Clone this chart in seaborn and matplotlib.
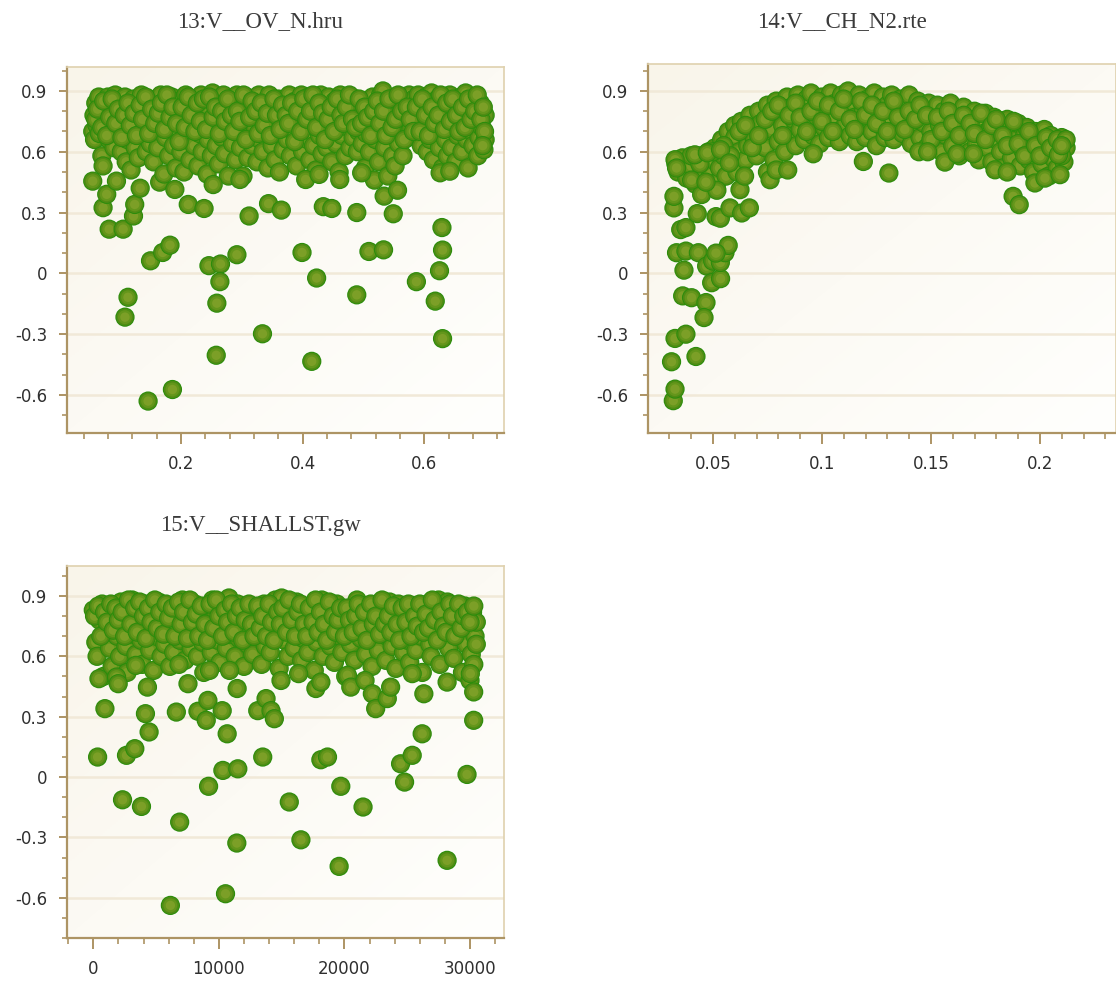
import numpy as np
import pandas as pd
import matplotlib
matplotlib.use("Agg")
import matplotlib.pyplot as plt
import seaborn as sns
from matplotlib.ticker import MultipleLocator, FuncFormatter
from matplotlib.colors import LinearSegmentedColormap

# ---------------- data ----------------
titles = ["13:V__OV_N.hru", "14:V__CH_N2.rte", "15:V__SHALLST.gw"]

ov_n_band = [
    (0.055, 0.70), (0.057, 0.78), (0.060, 0.84), (0.062, 0.73), (0.058, 0.66), (0.065, 0.87), (0.068, 0.80),
    (0.066, 0.69), (0.070, 0.58), (0.072, 0.53), (0.075, 0.75), (0.080, 0.87), (0.082, 0.66), (0.085, 0.82),
    (0.088, 0.71), (0.090, 0.62), (0.092, 0.88), (0.095, 0.77), (0.098, 0.69), (0.100, 0.84), (0.102, 0.60),
    (0.105, 0.73), (0.108, 0.87), (0.110, 0.55), (0.112, 0.66), (0.115, 0.79), (0.118, 0.51), (0.120, 0.70),
    (0.122, 0.86), (0.125, 0.62), (0.128, 0.75), (0.130, 0.57), (0.135, 0.88), (0.138, 0.68), (0.140, 0.80),
    (0.143, 0.60), (0.145, 0.72), (0.148, 0.86), (0.150, 0.64), (0.153, 0.77), (0.155, 0.55), (0.158, 0.83),
    (0.160, 0.70), (0.162, 0.62), (0.165, 0.45), (0.167, 0.88), (0.170, 0.76), (0.172, 0.49), (0.175, 0.67),
    (0.178, 0.83), (0.180, 0.58), (0.183, 0.72), (0.185, 0.87), (0.188, 0.63), (0.190, 0.79), (0.192, 0.52),
    (0.195, 0.69), (0.198, 0.85), (0.200, 0.60), (0.203, 0.76), (0.205, 0.50), (0.208, 0.88), (0.210, 0.66),
    (0.213, 0.81), (0.215, 0.56), (0.218, 0.72), (0.220, 0.86), (0.222, 0.63), (0.225, 0.78), (0.228, 0.53),
    (0.230, 0.69), (0.233, 0.88), (0.235, 0.60), (0.238, 0.75), (0.240, 0.84), (0.243, 0.49), (0.245, 0.66),
    (0.248, 0.80), (0.250, 0.58), (0.252, 0.89), (0.255, 0.71), (0.258, 0.63), (0.260, 0.85), (0.262, 0.54),
    (0.265, 0.76), (0.268, 0.67), (0.270, 0.88), (0.272, 0.59), (0.275, 0.81), (0.278, 0.48), (0.280, 0.72),
    (0.282, 0.86), (0.285, 0.64), (0.288, 0.78), (0.290, 0.56), (0.292, 0.88), (0.295, 0.70), (0.298, 0.62),
    (0.300, 0.83), (0.302, 0.48), (0.305, 0.74), (0.308, 0.87), (0.310, 0.57), (0.312, 0.68), (0.315, 0.80),
    (0.318, 0.63), (0.320, 0.86), (0.322, 0.72), (0.325, 0.55), (0.328, 0.88), (0.330, 0.66), (0.333, 0.77),
    (0.335, 0.60), (0.338, 0.84), (0.340, 0.70), (0.343, 0.52), (0.345, 0.88), (0.348, 0.75), (0.350, 0.63),
    (0.352, 0.81), (0.355, 0.56), (0.358, 0.69), (0.360, 0.86), (0.362, 0.50), (0.365, 0.77), (0.368, 0.61),
    (0.370, 0.84), (0.372, 0.72), (0.375, 0.66), (0.378, 0.88), (0.380, 0.58), (0.383, 0.79), (0.385, 0.70),
    (0.388, 0.85), (0.390, 0.53), (0.393, 0.64), (0.395, 0.76), (0.398, 0.88), (0.400, 0.60), (0.403, 0.70),
    (0.405, 0.82), (0.408, 0.66), (0.410, 0.87), (0.412, 0.56), (0.415, 0.74), (0.418, 0.63), (0.420, 0.84),
    (0.422, 0.51), (0.425, 0.78), (0.428, 0.68), (0.430, 0.88), (0.432, 0.59), (0.435, 0.73), (0.438, 0.83),
    (0.440, 0.62), (0.443, 0.87), (0.445, 0.69), (0.448, 0.55), (0.450, 0.79), (0.453, 0.85), (0.455, 0.64),
    (0.458, 0.74), (0.460, 0.50), (0.462, 0.88), (0.465, 0.68), (0.468, 0.80), (0.470, 0.58), (0.473, 0.86),
    (0.475, 0.72), (0.478, 0.62), (0.480, 0.84), (0.483, 0.67), (0.485, 0.77), (0.488, 0.86), (0.490, 0.60),
    (0.492, 0.70), (0.495, 0.81), (0.498, 0.64), (0.500, 0.76), (0.503, 0.52), (0.505, 0.69), (0.508, 0.84),
    (0.510, 0.60), (0.513, 0.73), (0.515, 0.87), (0.518, 0.46), (0.520, 0.66), (0.522, 0.79), (0.525, 0.55),
    (0.528, 0.88), (0.530, 0.70), (0.532, 0.90), (0.535, 0.62), (0.538, 0.82), (0.540, 0.48), (0.543, 0.75),
    (0.545, 0.86), (0.548, 0.58), (0.550, 0.68), (0.552, 0.53), (0.555, 0.80), (0.558, 0.64), (0.560, 0.87),
    (0.562, 0.72), (0.565, 0.58), (0.568, 0.84), (0.570, 0.76), (0.573, 0.67), (0.575, 0.88), (0.578, 0.71),
    (0.580, 0.80), (0.583, 0.86), (0.585, 0.74), (0.588, 0.68), (0.590, 0.88), (0.592, 0.78), (0.595, 0.63),
    (0.598, 0.83), (0.600, 0.72), (0.603, 0.87), (0.605, 0.60), (0.608, 0.76), (0.610, 0.66), (0.612, 0.89),
    (0.615, 0.56), (0.618, 0.80), (0.620, 0.70), (0.622, 0.86), (0.625, 0.62), (0.628, 0.74), (0.630, 0.52),
    (0.632, 0.83), (0.635, 0.66), (0.638, 0.58), (0.640, 0.78), (0.642, 0.88), (0.645, 0.62), (0.648, 0.72),
    (0.650, 0.84), (0.652, 0.55), (0.655, 0.68), (0.658, 0.79), (0.660, 0.87), (0.662, 0.60), (0.665, 0.75),
    (0.668, 0.89), (0.670, 0.66), (0.672, 0.52), (0.675, 0.82), (0.678, 0.70), (0.680, 0.63), (0.682, 0.86),
    (0.685, 0.76), (0.688, 0.58), (0.690, 0.67), (0.692, 0.84), (0.695, 0.72), (0.698, 0.61), (0.700, 0.78),
    (0.700, 0.66),
]
ov_n_band_top = [
    (0.060, 0.76), (0.063, 0.81), (0.070, 0.72), (0.073, 0.85), (0.078, 0.68), (0.083, 0.77), (0.087, 0.86),
    (0.093, 0.74), (0.097, 0.81), (0.103, 0.67), (0.107, 0.78), (0.113, 0.84), (0.117, 0.73), (0.123, 0.79),
    (0.127, 0.68), (0.133, 0.83), (0.137, 0.76), (0.142, 0.87), (0.147, 0.69), (0.152, 0.81), (0.157, 0.74),
    (0.163, 0.79), (0.168, 0.84), (0.173, 0.71), (0.177, 0.88), (0.182, 0.77), (0.187, 0.82), (0.193, 0.74),
    (0.197, 0.65), (0.202, 0.82), (0.207, 0.72), (0.212, 0.87), (0.217, 0.78), (0.223, 0.70), (0.227, 0.84),
    (0.232, 0.75), (0.237, 0.86), (0.242, 0.71), (0.247, 0.87), (0.253, 0.77), (0.257, 0.82), (0.263, 0.69),
    (0.267, 0.80), (0.273, 0.75), (0.277, 0.86), (0.283, 0.78), (0.287, 0.70), (0.293, 0.80), (0.297, 0.75),
    (0.303, 0.88), (0.307, 0.66), (0.313, 0.77), (0.317, 0.85), (0.323, 0.80), (0.327, 0.69), (0.332, 0.84),
    (0.337, 0.73), (0.342, 0.79), (0.347, 0.68), (0.353, 0.86), (0.357, 0.78), (0.363, 0.71), (0.367, 0.83),
    (0.373, 0.78), (0.377, 0.74), (0.382, 0.84), (0.387, 0.65), (0.392, 0.80), (0.397, 0.70), (0.402, 0.86),
    (0.407, 0.76), (0.413, 0.80), (0.417, 0.88), (0.423, 0.72), (0.427, 0.84), (0.433, 0.79), (0.437, 0.66),
    (0.442, 0.76), (0.447, 0.82), (0.452, 0.70), (0.457, 0.86), (0.463, 0.78), (0.467, 0.74), (0.472, 0.82),
    (0.477, 0.88), (0.482, 0.76), (0.487, 0.72), (0.493, 0.86), (0.497, 0.74), (0.502, 0.82), (0.507, 0.77),
    (0.512, 0.68), (0.517, 0.80), (0.523, 0.85), (0.527, 0.74), (0.533, 0.80), (0.537, 0.68), (0.542, 0.86),
    (0.547, 0.72), (0.553, 0.76), (0.557, 0.88), (0.563, 0.80), (0.567, 0.66), (0.572, 0.82), (0.577, 0.76),
    (0.582, 0.70), (0.587, 0.82), (0.593, 0.70), (0.597, 0.86), (0.602, 0.78), (0.607, 0.68), (0.613, 0.82),
    (0.617, 0.74), (0.623, 0.78), (0.627, 0.88), (0.633, 0.71), (0.637, 0.84), (0.643, 0.75), (0.647, 0.86),
    (0.653, 0.78), (0.657, 0.70), (0.663, 0.82), (0.667, 0.72), (0.673, 0.86), (0.677, 0.76), (0.683, 0.80),
    (0.687, 0.88), (0.693, 0.76), (0.697, 0.82), (0.699, 0.70), (0.696, 0.63),
]
ov_n_outliers = [
    (0.055, 0.455), (0.072, 0.324), (0.078, 0.39), (0.082, 0.218), (0.094, 0.455), (0.105, 0.218),
    (0.113, -0.118), (0.108, -0.216), (0.122, 0.283), (0.124, 0.34), (0.133, 0.42), (0.150, 0.062),
    (0.146, -0.63), (0.170, 0.103), (0.182, 0.139), (0.186, -0.573), (0.190, 0.414), (0.212, 0.34),
    (0.238, 0.32), (0.253, 0.438), (0.246, 0.038), (0.265, 0.046), (0.264, -0.041), (0.259, -0.147),
    (0.258, -0.404), (0.292, 0.092), (0.297, 0.463), (0.312, 0.283), (0.334, -0.298), (0.344, 0.344),
    (0.365, 0.312), (0.399, 0.103), (0.405, 0.463), (0.415, -0.434), (0.423, -0.023), (0.427, 0.488),
    (0.434, 0.329), (0.448, 0.32), (0.461, 0.463), (0.489, 0.30), (0.489, -0.106), (0.497, 0.496),
    (0.509, 0.108), (0.533, 0.116), (0.534, 0.381), (0.549, 0.294), (0.556, 0.41), (0.587, -0.041),
    (0.618, -0.137), (0.625, 0.013), (0.629, 0.226), (0.630, 0.115), (0.630, -0.322), (0.626, 0.496),
    (0.642, 0.504),
]

ch_n2_band = [
    (0.033, 0.54), (0.034, 0.50), (0.036, 0.57), (0.038, 0.47), (0.040, 0.53), (0.042, 0.44), (0.043, 0.58),
    (0.045, 0.50), (0.046, 0.55), (0.047, 0.42), (0.048, 0.60), (0.049, 0.49), (0.050, 0.56), (0.051, 0.62),
    (0.052, 0.45), (0.053, 0.52), (0.054, 0.66), (0.055, 0.58), (0.056, 0.48), (0.057, 0.70), (0.058, 0.63),
    (0.059, 0.55), (0.060, 0.73), (0.060, 0.67), (0.061, 0.50), (0.062, 0.60), (0.063, 0.75), (0.064, 0.69),
    (0.065, 0.56), (0.066, 0.63), (0.067, 0.78), (0.068, 0.72), (0.069, 0.66), (0.070, 0.58), (0.071, 0.80),
    (0.072, 0.74), (0.073, 0.68), (0.074, 0.62), (0.075, 0.83), (0.075, 0.50), (0.076, 0.77), (0.077, 0.71),
    (0.078, 0.56), (0.079, 0.85), (0.080, 0.65), (0.081, 0.79), (0.082, 0.73), (0.083, 0.60), (0.084, 0.87),
    (0.085, 0.68), (0.086, 0.82), (0.087, 0.76), (0.088, 0.63), (0.089, 0.88), (0.090, 0.71), (0.091, 0.80),
    (0.092, 0.66), (0.093, 0.86), (0.094, 0.74), (0.095, 0.89), (0.096, 0.68), (0.097, 0.82), (0.098, 0.77),
    (0.099, 0.64), (0.100, 0.87), (0.101, 0.72), (0.102, 0.80), (0.103, 0.67), (0.104, 0.89), (0.105, 0.76),
    (0.106, 0.84), (0.107, 0.70), (0.108, 0.65), (0.109, 0.88), (0.110, 0.79), (0.111, 0.74), (0.112, 0.90),
    (0.113, 0.68), (0.114, 0.84), (0.115, 0.77), (0.116, 0.65), (0.117, 0.88), (0.118, 0.72), (0.119, 0.81),
    (0.120, 0.67), (0.121, 0.86), (0.122, 0.76), (0.123, 0.70), (0.124, 0.89), (0.125, 0.63), (0.126, 0.80),
    (0.127, 0.73), (0.128, 0.87), (0.129, 0.67), (0.130, 0.83), (0.131, 0.76), (0.132, 0.88), (0.133, 0.66),
    (0.134, 0.79), (0.135, 0.72), (0.136, 0.86), (0.137, 0.69), (0.138, 0.82), (0.139, 0.75), (0.140, 0.88),
    (0.141, 0.64), (0.142, 0.78), (0.143, 0.71), (0.144, 0.85), (0.145, 0.67), (0.146, 0.81), (0.147, 0.74),
    (0.148, 0.62), (0.149, 0.84), (0.150, 0.70), (0.151, 0.78), (0.152, 0.65), (0.153, 0.83), (0.154, 0.73),
    (0.155, 0.60), (0.156, 0.80), (0.157, 0.68), (0.158, 0.76), (0.159, 0.84), (0.160, 0.63), (0.161, 0.71),
    (0.162, 0.79), (0.163, 0.58), (0.164, 0.74), (0.165, 0.82), (0.166, 0.66), (0.167, 0.77), (0.168, 0.60),
    (0.169, 0.72), (0.170, 0.80), (0.171, 0.64), (0.172, 0.56), (0.173, 0.75), (0.174, 0.69), (0.175, 0.79),
    (0.176, 0.62), (0.177, 0.71), (0.178, 0.55), (0.179, 0.77), (0.180, 0.66), (0.181, 0.73), (0.182, 0.60),
    (0.183, 0.52), (0.184, 0.69), (0.185, 0.76), (0.186, 0.63), (0.187, 0.57), (0.188, 0.71), (0.189, 0.66),
    (0.190, 0.74), (0.191, 0.53), (0.192, 0.61), (0.193, 0.68), (0.194, 0.72), (0.195, 0.56), (0.196, 0.64),
    (0.197, 0.50), (0.198, 0.70), (0.199, 0.59), (0.200, 0.66), (0.201, 0.54), (0.202, 0.71), (0.203, 0.62),
    (0.204, 0.48), (0.205, 0.68), (0.206, 0.57), (0.207, 0.64), (0.208, 0.52), (0.209, 0.60), (0.210, 0.67),
    (0.211, 0.55), (0.212, 0.62),
]
ch_n2_band_top = [
    (0.040, 0.58), (0.044, 0.54), (0.050, 0.60), (0.055, 0.63), (0.058, 0.58),
    (0.062, 0.70), (0.065, 0.73), (0.068, 0.62), (0.071, 0.68), (0.074, 0.76), (0.077, 0.80), (0.080, 0.83),
    (0.082, 0.68), (0.085, 0.78), (0.088, 0.84), (0.090, 0.77), (0.093, 0.70), (0.095, 0.80), (0.098, 0.85),
    (0.100, 0.75), (0.103, 0.83), (0.105, 0.70), (0.108, 0.80), (0.110, 0.86), (0.113, 0.76), (0.115, 0.71),
    (0.118, 0.85), (0.120, 0.78), (0.123, 0.83), (0.125, 0.74), (0.128, 0.80), (0.130, 0.70), (0.133, 0.85),
    (0.135, 0.77), (0.138, 0.71), (0.140, 0.80), (0.143, 0.76), (0.145, 0.83), (0.148, 0.78), (0.150, 0.66),
    (0.153, 0.77), (0.155, 0.70), (0.158, 0.80), (0.160, 0.74), (0.163, 0.68), (0.165, 0.78), (0.168, 0.74),
    (0.170, 0.69), (0.173, 0.79), (0.175, 0.66), (0.178, 0.73), (0.180, 0.76), (0.183, 0.68), (0.185, 0.63),
    (0.188, 0.75), (0.190, 0.64), (0.193, 0.58), (0.195, 0.70), (0.198, 0.63), (0.200, 0.58), (0.203, 0.67),
    (0.205, 0.62), (0.208, 0.66), (0.210, 0.58), (0.212, 0.66),
]
ch_n2_outliers = [
    (0.0318, -0.628), (0.0326, -0.571), (0.0310, -0.436), (0.0326, -0.321), (0.0376, -0.300), (0.0422, -0.410),
    (0.0361, -0.111), (0.0402, -0.120), (0.0468, -0.144), (0.0459, -0.218), (0.0367, 0.016), (0.0333, 0.102),
    (0.0376, 0.110), (0.0433, 0.102), (0.0471, 0.036), (0.0499, 0.061), (0.0494, -0.046), (0.0535, -0.026),
    (0.0534, 0.054), (0.0555, 0.102), (0.0570, 0.138), (0.0514, 0.100), (0.0352, 0.216), (0.0376, 0.226),
    (0.0321, 0.323), (0.0321, 0.380), (0.0428, 0.295), (0.0514, 0.280), (0.0534, 0.272), (0.0578, 0.323),
    (0.0632, 0.298), (0.0667, 0.323), (0.0326, 0.561), (0.0333, 0.520), (0.0448, 0.389), (0.0518, 0.410),
    (0.0402, 0.460), (0.0468, 0.450), (0.0417, 0.585), (0.0474, 0.595), (0.0535, 0.610), (0.0575, 0.545),
    (0.0624, 0.413), (0.0645, 0.480), (0.0762, 0.462), (0.0790, 0.510), (0.0843, 0.510), (0.0960, 0.590),
    (0.1190, 0.552), (0.1307, 0.495), (0.1445, 0.600), (0.1485, 0.600), (0.1564, 0.549), (0.1620, 0.590),
    (0.1695, 0.590), (0.1794, 0.511), (0.1850, 0.500), (0.1877, 0.380), (0.1905, 0.339), (0.1977, 0.446),
    (0.2023, 0.470), (0.2092, 0.487), (0.2085, 0.585), (0.2100, 0.630),
]

shallst_band = [
    (0, 0.83), (200, 0.67), (300, 0.60), (500, 0.78), (700, 0.86), (800, 0.50), (1000, 0.72), (1200, 0.84),
    (1300, 0.64), (1500, 0.55), (1700, 0.80), (1900, 0.70), (2100, 0.60), (2200, 0.87), (2400, 0.76),
    (2600, 0.65), (2700, 0.52), (2900, 0.83), (3100, 0.88), (3200, 0.71), (3400, 0.61), (3600, 0.79),
    (3800, 0.68), (3900, 0.56), (4100, 0.86), (4300, 0.74), (4500, 0.63), (4700, 0.82), (4800, 0.53),
    (5000, 0.70), (5200, 0.87), (5400, 0.60), (5500, 0.77), (5700, 0.66), (5900, 0.84), (6100, 0.55),
    (6200, 0.73), (6400, 0.62), (6600, 0.85), (6700, 0.79), (6900, 0.68), (7100, 0.88), (7300, 0.58),
    (7400, 0.75), (7600, 0.83), (7800, 0.64), (8000, 0.71), (8100, 0.86), (8300, 0.60), (8500, 0.78),
    (8700, 0.67), (8800, 0.52), (9000, 0.84), (9200, 0.73), (9400, 0.62), (9500, 0.88), (9700, 0.79),
    (9900, 0.68), (10100, 0.57), (10200, 0.85), (10400, 0.75), (10600, 0.64), (10800, 0.89), (10900, 0.71),
    (11100, 0.80), (11300, 0.60), (11500, 0.86), (11600, 0.69), (11800, 0.77), (12000, 0.55), (12200, 0.84),
    (12300, 0.66), (12500, 0.73), (12700, 0.61), (12900, 0.82), (13000, 0.70), (13200, 0.78), (13400, 0.56),
    (13600, 0.86), (13700, 0.65), (13900, 0.75), (14100, 0.62), (14300, 0.83), (14500, 0.88), (14600, 0.71),
    (14800, 0.54), (15000, 0.89), (15200, 0.68), (15300, 0.79), (15500, 0.60), (15700, 0.84), (15900, 0.73),
    (16000, 0.64), (16200, 0.87), (16400, 0.76), (16600, 0.58), (16700, 0.69), (16900, 0.82), (17100, 0.62),
    (17300, 0.74), (17400, 0.85), (17600, 0.53), (17800, 0.67), (18000, 0.79), (18200, 0.88), (18300, 0.60),
    (18500, 0.72), (18700, 0.84), (18900, 0.65), (19000, 0.77), (19200, 0.57), (19400, 0.86), (19600, 0.70),
    (19800, 0.62), (19900, 0.80), (20100, 0.50), (20300, 0.74), (20500, 0.66), (20600, 0.84), (20800, 0.58),
    (21000, 0.88), (21200, 0.77), (21300, 0.69), (21500, 0.85), (21700, 0.61), (21900, 0.73), (22000, 0.80),
    (22200, 0.55), (22400, 0.68), (22600, 0.86), (22700, 0.63), (22900, 0.75), (23100, 0.84), (23300, 0.58),
    (23400, 0.70), (23600, 0.87), (23800, 0.65), (24000, 0.78), (24100, 0.54), (24300, 0.86), (24500, 0.72),
    (24700, 0.62), (24800, 0.80), (25000, 0.68), (25200, 0.57), (25400, 0.84), (25500, 0.74), (25700, 0.63),
    (25900, 0.82), (26100, 0.70), (26200, 0.52), (26400, 0.77), (26600, 0.86), (26800, 0.66), (26900, 0.60),
    (27100, 0.83), (27300, 0.73), (27500, 0.88), (27600, 0.56), (27800, 0.69), (28000, 0.80), (28200, 0.87),
    (28300, 0.64), (28500, 0.75), (28700, 0.59), (28900, 0.84), (29000, 0.70), (29200, 0.78), (29400, 0.52),
    (29600, 0.85), (29700, 0.66), (29900, 0.74), (30100, 0.61), (30200, 0.82), (30400, 0.70), (30500, 0.77),
    (30300, 0.56), (30000, 0.48),
]
shallst_band_top = [
    (100, 0.80), (400, 0.85), (600, 0.70), (900, 0.82), (1100, 0.77), (1400, 0.86), (1600, 0.73), (1800, 0.84),
    (2000, 0.78), (2300, 0.82), (2500, 0.70), (2800, 0.88), (3000, 0.76), (3300, 0.84), (3500, 0.72),
    (3700, 0.87), (4000, 0.80), (4200, 0.69), (4400, 0.84), (4600, 0.77), (4900, 0.88), (5100, 0.74),
    (5300, 0.82), (5600, 0.71), (5800, 0.86), (6000, 0.79), (6300, 0.84), (6500, 0.70), (6800, 0.87),
    (7000, 0.76), (7200, 0.82), (7500, 0.69), (7700, 0.88), (7900, 0.77), (8200, 0.81), (8400, 0.70),
    (8600, 0.85), (8900, 0.76), (9100, 0.68), (9300, 0.86), (9600, 0.74), (9800, 0.88), (10000, 0.80),
    (10300, 0.70), (10500, 0.83), (10700, 0.77), (11000, 0.86), (11200, 0.72), (11400, 0.80), (11700, 0.84),
    (11900, 0.68), (12100, 0.78), (12400, 0.86), (12600, 0.76), (12800, 0.70), (13100, 0.85), (13300, 0.74),
    (13500, 0.80), (13800, 0.70), (14000, 0.86), (14200, 0.77), (14400, 0.68), (14700, 0.82), (14900, 0.76),
    (15100, 0.84), (15400, 0.72), (15600, 0.88), (15800, 0.78), (16100, 0.70), (16300, 0.82), (16500, 0.86),
    (16800, 0.76), (17000, 0.70), (17200, 0.84), (17500, 0.77), (17700, 0.88), (17900, 0.72), (18100, 0.82),
    (18400, 0.76), (18600, 0.68), (18800, 0.87), (19100, 0.80), (19300, 0.72), (19500, 0.78), (19700, 0.84),
    (20000, 0.70), (20200, 0.84), (20400, 0.78), (20700, 0.72), (20900, 0.80), (21100, 0.86), (21400, 0.74),
    (21600, 0.82), (21800, 0.68), (22100, 0.86), (22300, 0.76), (22500, 0.80), (22800, 0.71), (23000, 0.88),
    (23200, 0.76), (23500, 0.80), (23700, 0.72), (23900, 0.85), (24200, 0.76), (24400, 0.68), (24600, 0.84),
    (24900, 0.77), (25100, 0.86), (25300, 0.70), (25600, 0.80), (25800, 0.75), (26000, 0.86), (26300, 0.72),
    (26500, 0.81), (26700, 0.74), (27000, 0.88), (27200, 0.78), (27400, 0.68), (27700, 0.82), (27900, 0.75),
    (28100, 0.72), (28400, 0.86), (28600, 0.80), (28800, 0.70), (29100, 0.86), (29300, 0.74), (29500, 0.80),
    (29800, 0.82), (30000, 0.77), (30300, 0.85), (30500, 0.66),
]
shallst_outliers = [
    (344, 0.0995), (926, 0.34), (450, 0.489), (2328, -0.113), (2645, 0.108), (3307, 0.141), (3836, -0.146),
    (4153, 0.315), (4444, 0.224), (4312, 0.447), (3386, 0.555), (1852, 0.497), (1984, 0.464), (6138, -0.638),
    (6614, 0.323), (6878, -0.224), (7540, 0.464), (6825, 0.56), (8333, 0.327), (8995, 0.282), (9127, 0.381),
    (9180, -0.046), (9259, 0.53), (10265, 0.33), (10318, 0.033), (10661, 0.215), (10529, -0.58), (11455, 0.44),
    (11508, 0.041), (11429, -0.328), (10847, 0.53), (13095, 0.33), (13492, 0.0995), (13757, 0.39),
    (14153, 0.33), (14418, 0.29), (14947, 0.48), (15608, -0.124), (16534, -0.312), (16349, 0.514),
    (17725, 0.44), (18122, 0.472), (18122, 0.086), (18651, 0.0995), (19577, -0.444), (19709, -0.046),
    (20238, 0.506), (20503, 0.447), (21481, -0.149), (21640, 0.48), (22222, 0.414), (22487, 0.34),
    (23413, 0.39), (23677, 0.447), (24471, 0.066), (24788, -0.025), (25397, 0.108), (25397, 0.514),
    (26190, 0.215), (26323, 0.414), (28175, -0.414), (28175, 0.472), (29762, 0.013), (30291, 0.282),
    (30291, 0.423), (30026, 0.514),
]

# axis settings
panel_xlim = [(0.0127, 0.731), (0.0202, 0.2349), (-2094, 32706)]
panel_ylim = [(-0.7875, 1.018), (-0.7875, 1.033), (-0.80, 1.049)]
panel_xmajor = [0.2, 0.05, 10000]
panel_xminor = [0.04, 0.01, 2000]

# ---------------- style ----------------
sns.set_style("white")
plt.rcParams["font.family"] = ["DejaVu Sans"]
plt.rcParams["axes.unicode_minus"] = False

W, H = 1116, 983
fig = plt.figure(figsize=(W / 100, H / 100), dpi=100)
fig.patch.set_facecolor("white")

rects_px = [(67, 67, 504, 433), (648, 64, 1116, 433), (67, 566, 504, 938)]
title_px = [(260, 22), (842, 22), (260, 525)]

spine_dark = "#AD9464"
spine_light = "#DFD1AE"
grid_col = "#F1E9D8"
label_col = "#2F2F2F"

# ball rendering layers drawn per point in order (outer rim -> highlight)
layer_names = ["rim", "body", "mid", "shine"]
layer_sizes = {"rim": 192, "body": 152, "mid": 100, "shine": 46}
layer_colors = {"rim": "#2B8C0B", "body": "#4F8C14", "mid": "#64961B", "shine": "#7C9F27"}
layer_lw = [0.0, 0.0, 0.0, 0.0]

bg_cmap = LinearSegmentedColormap.from_list("bg", ["#F9F5EA", "#FCFAF4", "#FFFFFD"])
gy, gx = np.mgrid[0:1:200j, 0:1:200j]
bg = (gx + gy) / 2.0


def fmt(v, pos):
    if abs(v) < 1e-12:
        return "0"
    return f"{v:.10g}"


datasets = [
    ov_n_band + ov_n_band_top + ov_n_outliers,
    ch_n2_band + ch_n2_band_top + ch_n2_outliers,
    shallst_band + shallst_band_top + shallst_outliers,
]

for i, pts in enumerate(datasets):
    l, t, r, b = rects_px[i]
    ax = fig.add_axes([l / W, (H - b) / H, (r - l) / W, (b - t) / H])
    ax.set_facecolor("none")
    ax.imshow(bg, cmap=bg_cmap, extent=(0, 1, 0, 1), transform=ax.transAxes,
              aspect="auto", zorder=-5, interpolation="bilinear")

    xs = np.array([p[0] for p in pts], dtype=float)
    ys = np.array([p[1] for p in pts], dtype=float)
    n = len(xs)
    k = len(layer_names)
    df = pd.DataFrame({
        "x": np.repeat(xs, k),
        "y": np.repeat(ys, k),
        "layer": np.tile(layer_names, n),
    })
    sns.scatterplot(
        data=df, x="x", y="y", hue="layer", size="layer",
        palette=layer_colors, sizes=layer_sizes,
        hue_order=layer_names, size_order=layer_names,
        edgecolor="none", linewidth=np.tile(layer_lw, n),
        legend=False, ax=ax, zorder=3,
    )

    ax.set_xlim(*panel_xlim[i])
    ax.set_ylim(*panel_ylim[i])
    ax.set_xlabel("")
    ax.set_ylabel("")

    ax.xaxis.set_major_locator(MultipleLocator(panel_xmajor[i]))
    ax.xaxis.set_minor_locator(MultipleLocator(panel_xminor[i]))
    ax.yaxis.set_major_locator(MultipleLocator(0.3))
    ax.yaxis.set_minor_locator(MultipleLocator(0.1))
    ax.xaxis.set_major_formatter(FuncFormatter(fmt))
    ax.yaxis.set_major_formatter(FuncFormatter(fmt))

    ax.yaxis.grid(True, which="major", color=grid_col, linewidth=1.8)
    ax.xaxis.grid(False)
    ax.set_axisbelow(True)

    for side in ["left", "bottom"]:
        ax.spines[side].set_color(spine_dark)
        ax.spines[side].set_linewidth(1.6)
    for side in ["top", "right"]:
        ax.spines[side].set_color(spine_light)
        ax.spines[side].set_linewidth(1.2)

    ax.tick_params(axis="x", which="major", direction="out", length=8, width=1.4,
                   color=spine_dark, labelsize=12, labelcolor=label_col, pad=8, bottom=True)
    ax.tick_params(axis="x", which="minor", direction="out", length=4.5, width=1.2,
                   color=spine_dark, bottom=True)
    ax.tick_params(axis="y", which="major", direction="out", length=6, width=1.4,
                   color=spine_dark, labelsize=12, labelcolor=label_col, pad=8, left=True)
    ax.tick_params(axis="y", which="minor", direction="out", length=3.5, width=1.2,
                   color=spine_dark, left=True)

    tx, ty = title_px[i]
    fig.text(tx / W, 1 - ty / H, titles[i], ha="center", va="center",
             fontsize=16.5, color="#3A3A3A", family=["Liberation Serif", "DejaVu Serif"])

fig.savefig("out.png", dpi=100)
